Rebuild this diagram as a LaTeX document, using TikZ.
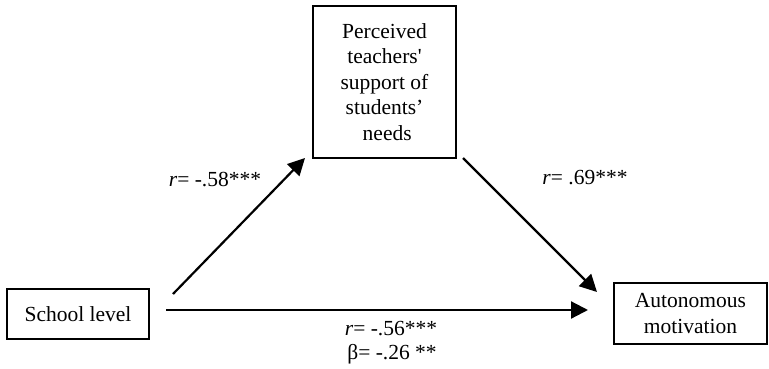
\documentclass[tikz,border=0pt]{standalone}
\usepackage{fontspec}
\setmainfont{Liberation Serif}
\usetikzlibrary{arrows.meta}
\begin{document}
\begin{tikzpicture}[x=1pt,y=-1pt,
  box/.style={draw, line width=1.4pt, align=center, inner sep=0pt,
    font=\fontsize{21.5}{25.5}\selectfont},
  conn/.style={line width=2.2pt, -{Triangle[length=17pt,width=17pt]}},
  lbl/.style={font=\fontsize{21.5}{25}\selectfont, inner sep=0pt}]
\useasboundingbox (0,0) rectangle (769,369);
\node[box, minimum width=143pt, minimum height=152pt] (med) at (384.5,82)
  {Perceived\\teachers\textquotesingle\\support of\\students’\\\ needs};
\node[box, minimum width=142pt, minimum height=50pt] (iv) at (78,314) {School level};
\node[box, minimum width=153pt, minimum height=61pt] (dv) at (690.5,313.5)
  {Autonomous\\motivation};
\coordinate (a1s) at (173,294);
\coordinate (a1e) at (305,158);
\coordinate (a2s) at (463,158);
\coordinate (a2e) at (597,292);
\coordinate (a3s) at (166,310);
\coordinate (a3e) at (588,310);
\draw[conn] (a1s) -- (a1e);
\draw[conn] (a2s) -- (a2e);
\draw[conn] (a3s) -- (a3e);
\node[lbl] (l1) at (215,180) {\textit{r}= -.58***};
\node[lbl] (l2) at (585,178) {\textit{r}= .69***};
\node[lbl] (l3) at (391,329) {\textit{r}= -.56***};
\node[lbl] (l4) at (392,354) {β= -.26 **};
\end{tikzpicture}
\end{document}
